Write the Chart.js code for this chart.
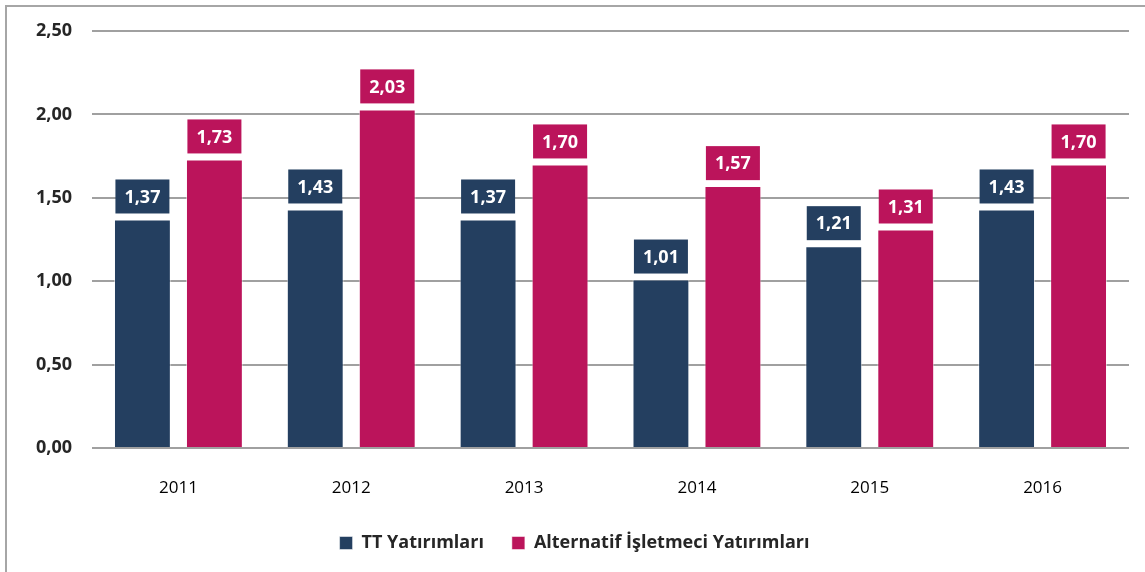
<!DOCTYPE html>
<html>
<head>
<meta charset="utf-8">
<script src="https://cdn.jsdelivr.net/npm/chart.js@4"></script>
<style>
  html, body { margin: 0; padding: 0; background: #fff; overflow: hidden; }
  #wrap { position: relative; width: 1145px; height: 572px; }
  #frame { position: absolute; left: 5px; top: 5px; width: 2000px; height: 2000px;
           border-left: 2px solid #a6a6a6; border-top: 2px solid #a6a6a6; }
  canvas { position: absolute; left: 0; top: 0; }
</style>
</head>
<body>
<div id="wrap">
  <div id="frame"></div>
  <canvas id="chart" width="1145" height="572"></canvas>
</div>
<script>
// Yatırım / gelir oranları
const years = ['2011', '2012', '2013', '2014', '2015', '2016'];
const ttValues = [1.37, 1.43, 1.37, 1.01, 1.21, 1.43];
const altValues = [1.73, 2.03, 1.70, 1.57, 1.31, 1.70];
const seriesNames = ['TT Yatırımları', 'Alternatif İşletmeci Yatırımları'];

const NAVY = '#243f60';
const CRIMSON = '#bb145b';
const FONT = '"Open Sans", "Noto Sans", sans-serif';

const fmt = v => v.toFixed(2).replace('.', ',');

// etiket kutuları: çubuğun üstünde renkli kutu içinde değer
const valueBoxes = {
  id: 'valueBoxes',
  afterDatasetsDraw(chart) {
    const ctx = chart.ctx;
    chart.data.datasets.forEach((ds, i) => {
      const meta = chart.getDatasetMeta(i);
      meta.data.forEach((bar, j) => {
        const w = 54, h = 34;
        const x = bar.x - w / 2;
        const y = bar.y - 6 - h;
        ctx.save();
        ctx.fillStyle = ds.backgroundColor;
        ctx.fillRect(x, y, w, h);
        ctx.fillStyle = '#fff';
        ctx.font = `bold 18px ${FONT}`;
        ctx.textAlign = 'center';
        ctx.textBaseline = 'middle';
        ctx.fillText(fmt(ds.data[j]), bar.x, y + h / 2 + 1);
        ctx.restore();
      });
    });
  }
};

new Chart(document.getElementById('chart'), {
  type: 'bar',
  data: {
    labels: years,
    datasets: [
      { label: seriesNames[0], data: ttValues, backgroundColor: NAVY, borderColor: 'rgba(255,255,255,0.5)', borderWidth: 1 },
      { label: seriesNames[1], data: altValues, backgroundColor: CRIMSON, borderColor: 'rgba(255,255,255,0.5)', borderWidth: 1 }
    ]
  },
  options: {
    responsive: false,
    animation: false,
    categoryPercentage: 0.833,
    barPercentage: 0.79,
    layout: { padding: { top: 31, right: 16, left: 20, bottom: 10 } },
    plugins: {
      tooltip: { enabled: false },
      legend: {
        position: 'bottom',
        labels: {
          boxWidth: 13, boxHeight: 13, padding: 28,
          color: '#262626',
          font: { family: FONT, size: 18, weight: 'bold' }
        }
      }
    },
    scales: {
      x: {
        grid: { display: false },
        border: { display: false },
        ticks: { color: '#000', padding: 22, font: { family: FONT, size: 17 } },
        afterFit: s => { s.height = 58; }
      },
      y: {
        min: 0, max: 2.5,
        grid: { color: '#a0a0a0', lineWidth: 2, drawTicks: false },
        border: { display: false },
        ticks: {
          stepSize: 0.5, padding: 20, color: '#262626',
          font: { family: FONT, size: 18, weight: 'bold' },
          callback: v => fmt(v)
        },
        afterFit: s => { s.width = 72; }
      }
    }
  },
  plugins: [valueBoxes]
});
</script>
</body>
</html>
